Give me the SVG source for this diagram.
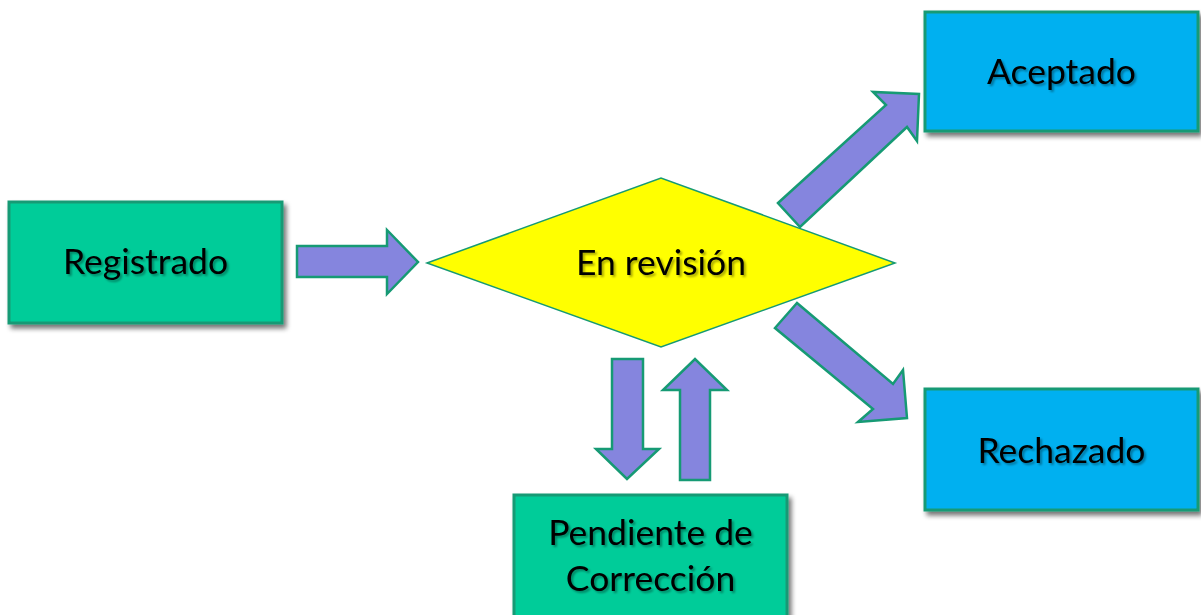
<svg xmlns="http://www.w3.org/2000/svg" width="1201" height="615" viewBox="0 0 1201 615">
<defs>
<filter id="sh" x="-10%" y="-10%" width="125%" height="130%">
<feGaussianBlur in="SourceAlpha" stdDeviation="2.5"/>
<feOffset dx="3" dy="4" result="b"/>
<feComponentTransfer><feFuncA type="linear" slope="0.55"/></feComponentTransfer>
<feMerge><feMergeNode/><feMergeNode in="SourceGraphic"/></feMerge>
</filter>
<filter id="tsh" x="-5%" y="-20%" width="110%" height="140%">
<feGaussianBlur in="SourceAlpha" stdDeviation="1"/>
<feOffset dx="1.5" dy="1.5"/>
<feComponentTransfer><feFuncA type="linear" slope="0.35"/></feComponentTransfer>
<feMerge><feMergeNode/><feMergeNode in="SourceGraphic"/></feMerge>
</filter>
</defs>
<style>
.green{fill:#00cc99;stroke:#169a74;stroke-width:3}
.blue{fill:#00b0f0;stroke:#169a74;stroke-width:3}
.dia{fill:#ffff00;stroke:#169a74;stroke-width:1.5}
.arr{fill:#8585de;stroke:#169a74;stroke-width:2.5;stroke-linejoin:miter}
.lbl{font-family:Lato,"Open Sans",sans-serif;font-size:35.5px;fill:#000;text-anchor:middle}
</style>
<rect width="1201" height="615" fill="#ffffff"/>
<g id="registrado">
<rect class="green" x="9" y="202" width="273" height="121" filter="url(#sh)"/>
<text class="lbl" x="145.5" y="274" filter="url(#tsh)">Registrado</text>
</g>
<g id="en-revision">
<polygon class="dia" points="427,263 661,178 895,263 661,347"/>
<text class="lbl" x="661" y="275" filter="url(#tsh)">En revisión</text>
</g>
<g id="aceptado">
<rect class="blue" x="925" y="12" width="273" height="119" filter="url(#sh)"/>
<text class="lbl" x="1061.5" y="84" filter="url(#tsh)">Aceptado</text>
</g>
<g id="rechazado">
<rect class="blue" x="925" y="389" width="273" height="121" filter="url(#sh)"/>
<text class="lbl" x="1061.5" y="463" filter="url(#tsh)">Rechazado</text>
</g>
<g id="pendiente">
<rect class="green" x="514" y="495" width="273" height="125" filter="url(#sh)"/>
<text class="lbl" x="650.5" y="545" filter="url(#tsh)">Pendiente de</text>
<text class="lbl" x="650.5" y="591" filter="url(#tsh)">Corrección</text>
</g>
<g id="connectors">
<polygon class="arr" points="297,246 387,246 387,230 418,262 387,294 387,277 297,277"/>
<polygon class="arr" points="778,203 886,105 873,92 919,94 917,141 907,127 800,227"/>
<polygon class="arr" points="797,303 893,384 903,370 907,418 858,422 873,409 775,328"/>
<polygon class="arr" points="612,359 643,359 643,449 659,449 627,479 596,449 612,449"/>
<polygon class="arr" points="680,480 710,480 710,390 727,390 695,359 663,390 680,390"/>
</g>
</svg>
